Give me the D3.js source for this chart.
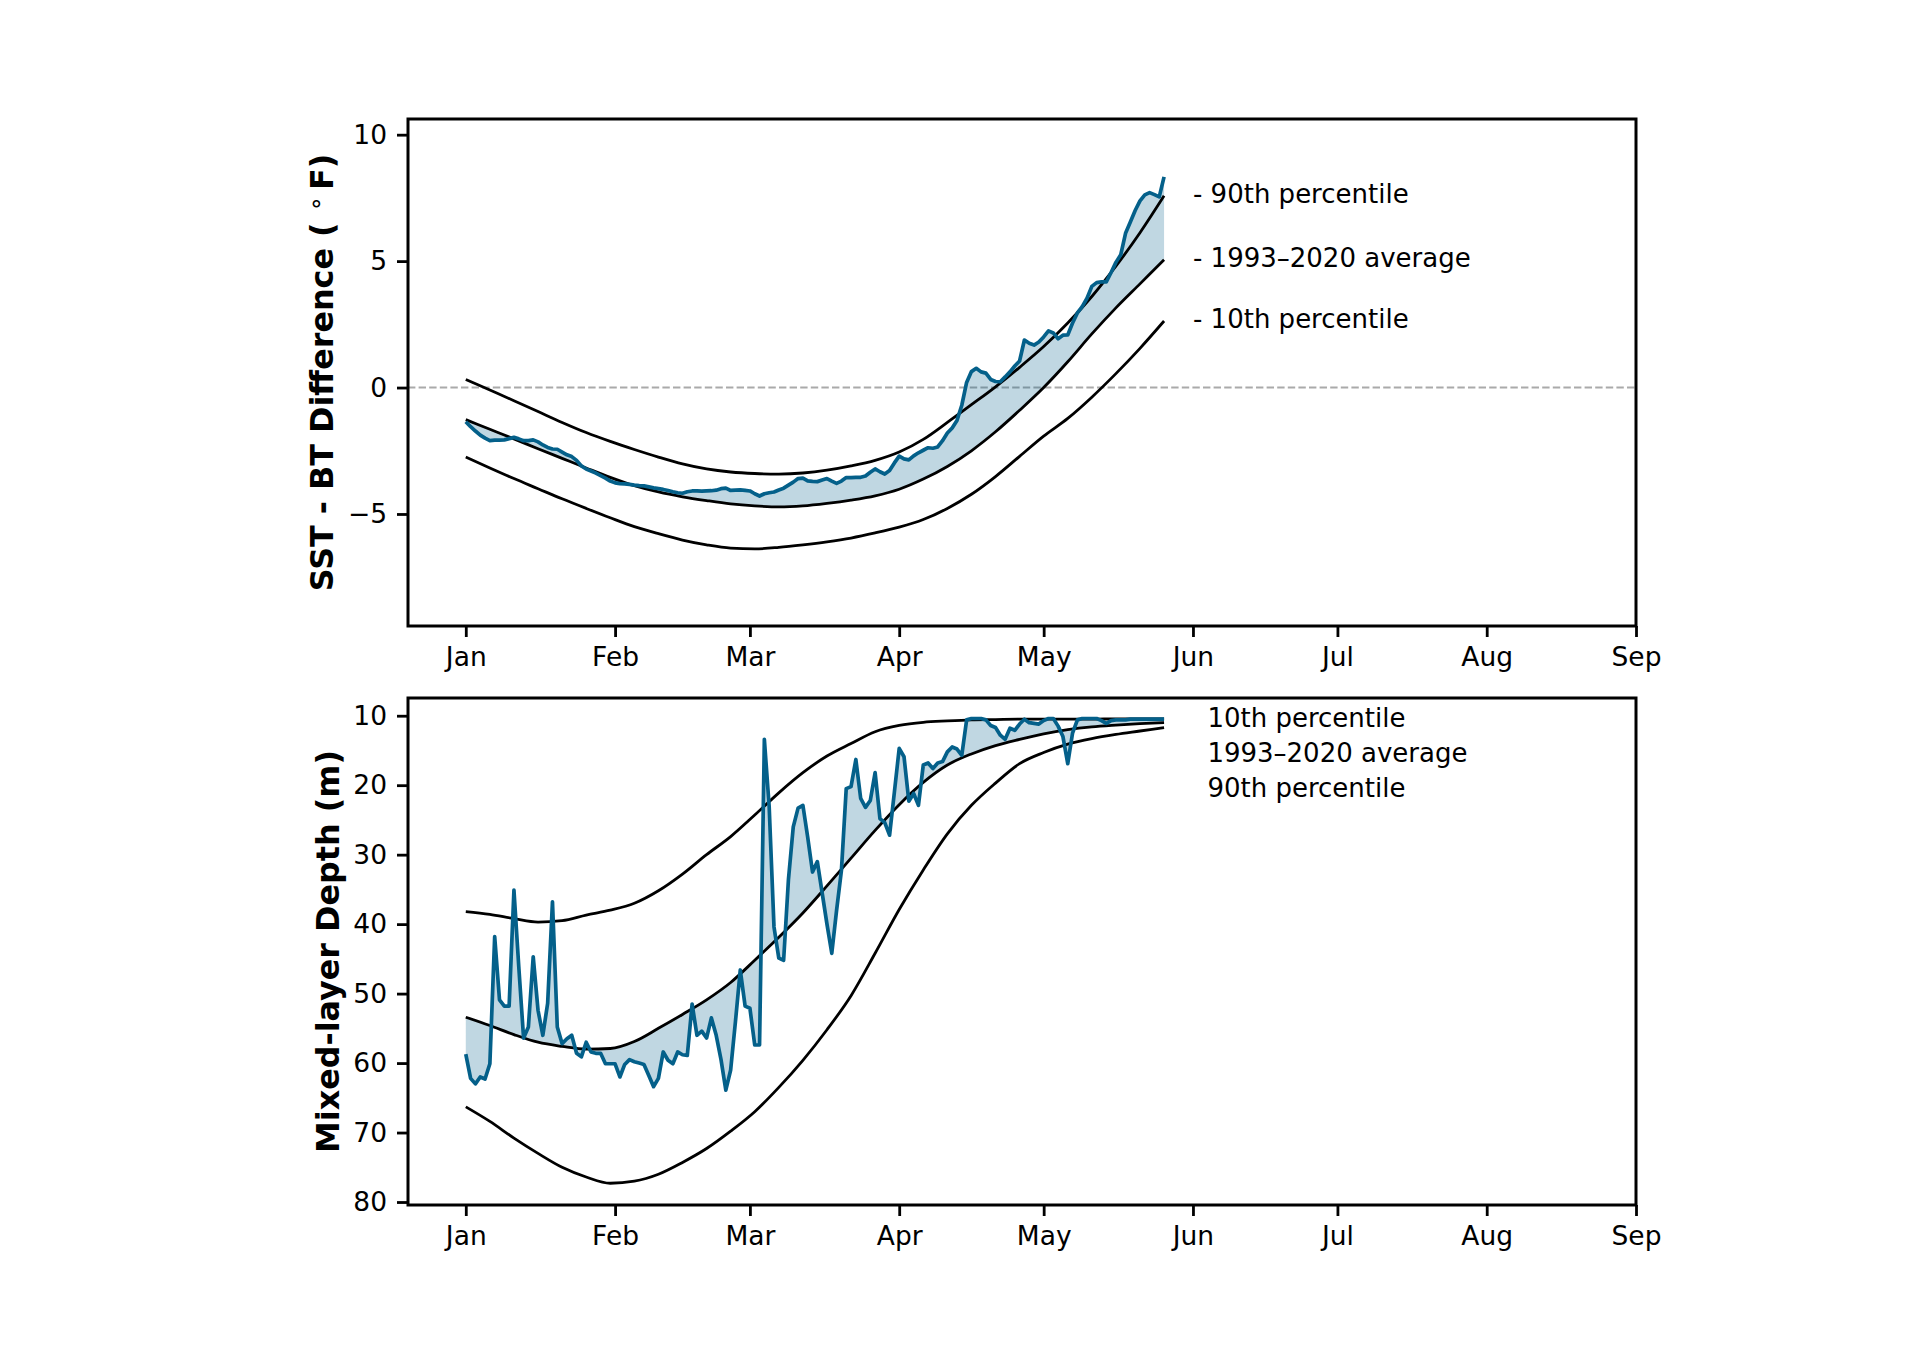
<!DOCTYPE html>
<html>
<head>
<meta charset="utf-8">
<script src="https://cdn.jsdelivr.net/npm/d3@7"></script>
<style>
  body { margin: 0; background: #fff; }
  text { font-family: "DejaVu Sans", sans-serif; }
</style>
</head>
<body>
<svg id="chart" width="1920" height="1359"></svg>
<script>

// ---- data ----
// month tick labels
var monthLabels = ["Jan", "Feb", "Mar", "Apr", "May", "Jun", "Jul", "Aug", "Sep"];

// observed daily SST - BT difference (F), Jan 1 .. May 26
var obsSst = [
  -1.35, -1.55, -1.72, -1.88, -2.0, -2.1, -2.08, -2.08, -2.07, -2.02,
  -1.97, -2.03, -2.1, -2.1, -2.07, -2.15, -2.27, -2.37, -2.43, -2.44,
  -2.55, -2.66, -2.73, -2.88, -3.1, -3.22, -3.3, -3.38, -3.48, -3.58,
  -3.7, -3.77, -3.8, -3.81, -3.83, -3.86, -3.88, -3.89, -3.93, -3.97,
  -4.0, -4.03, -4.07, -4.12, -4.16, -4.18, -4.12, -4.09, -4.09, -4.1,
  -4.09, -4.08, -4.06, -4.0, -3.98, -4.07, -4.06, -4.05, -4.07, -4.09,
  -4.2, -4.29, -4.2, -4.16, -4.13, -4.05, -3.98, -3.86, -3.74, -3.6,
  -3.58, -3.69, -3.71, -3.72, -3.66, -3.6, -3.7, -3.79, -3.7, -3.56,
  -3.56, -3.55, -3.55, -3.5, -3.35, -3.22, -3.33, -3.42, -3.28, -2.98,
  -2.71, -2.82, -2.86, -2.7, -2.58, -2.48, -2.38, -2.4, -2.35, -2.1,
  -1.8, -1.6, -1.3, -0.7, 0.2, 0.63, 0.76, 0.62, 0.57, 0.32,
  0.24, 0.23, 0.42, 0.62, 0.85, 1.05, 1.88, 1.75, 1.68, 1.8,
  2.0, 2.24, 2.16, 1.93, 2.07, 2.08, 2.55, 2.95, 3.2, 3.53,
  4.0, 4.15, 4.18, 4.18, 4.55, 4.95, 5.25, 6.1, 6.55, 7.0,
  7.38, 7.62, 7.71, 7.63, 7.54, 8.33
];

// observed daily mixed-layer depth (m), Jan 1 .. May 26
var obsMld = [
  58.7, 62.2, 63.0, 62.0, 62.3, 60.1, 41.8, 50.9, 51.8, 51.8,
  35.1, 46.1, 56.4, 54.8, 44.7, 52.4, 56.0, 51.4, 36.8, 54.8,
  57.2, 56.5, 56.0, 58.6, 59.1, 57.0, 58.4, 58.6, 58.6, 60.1,
  60.1, 60.1, 62.0, 60.2, 59.5, 59.8, 60.0, 60.2, 61.8, 63.4,
  62.2, 58.4, 59.6, 60.1, 58.4, 58.8, 58.9, 51.5, 56.0, 55.4,
  56.4, 53.5, 56.0, 59.5, 63.9, 61.0, 54.0, 46.6, 51.8, 52.1,
  57.4, 57.4, 13.4, 23.1, 40.4, 44.9, 45.2, 33.6, 26.0, 23.3,
  22.9, 27.5, 32.5, 31.0, 35.5, 40.0, 44.2, 38.0, 32.3, 20.5,
  20.2, 16.3, 21.9, 23.2, 22.2, 18.2, 24.8, 25.4, 27.2, 21.0,
  14.7, 15.9, 22.3, 21.2, 22.9, 17.1, 16.8, 17.6, 16.8, 16.6,
  15.2, 14.5, 14.8, 15.7, 10.6, 10.4, 10.4, 10.4, 10.6, 11.4,
  11.7, 12.8, 13.4, 11.8, 12.1, 11.2, 10.5, 11.0, 11.1, 11.2,
  10.7, 10.4, 10.4, 11.5, 13.0, 16.9, 12.5, 10.6, 10.4, 10.4,
  10.4, 10.4, 10.7, 11.1, 10.7, 10.6, 10.6, 10.6, 10.5, 10.5,
  10.5, 10.5, 10.5, 10.5, 10.5, 10.5
];

// climatology sampled every 5 days (day offset from Jan 1)
var pctDay = [0, 5, 10, 15, 20, 25, 30, 35, 40, 45, 50, 55, 60, 65, 70,
              75, 80, 85, 90, 95, 100, 105, 110, 115, 120, 125, 130, 135, 140, 145];

var sst90 = [0.32, -0.10, -0.52, -0.95, -1.38, -1.78, -2.13, -2.45, -2.75, -3.02,
             -3.22, -3.34, -3.40, -3.42, -3.38, -3.27, -3.10, -2.88, -2.55, -2.05,
             -1.38, -0.68, 0.03, 0.80, 1.62, 2.55, 3.60, 4.80, 6.12, 7.58];
var sstAvg = [-1.27, -1.65, -2.03, -2.42, -2.80, -3.18, -3.55, -3.88, -4.13, -4.32,
              -4.47, -4.60, -4.68, -4.72, -4.68, -4.58, -4.45, -4.28, -4.02, -3.62,
              -3.12, -2.50, -1.75, -0.90, 0.00, 1.02, 2.12, 3.15, 4.10, 5.05];
var sst10 = [-2.75, -3.18, -3.60, -4.00, -4.40, -4.78, -5.15, -5.50, -5.78, -6.03,
             -6.22, -6.35, -6.38, -6.32, -6.22, -6.10, -5.95, -5.75, -5.52, -5.22,
             -4.78, -4.22, -3.52, -2.72, -1.92, -1.22, -0.38, 0.55, 1.55, 2.63];

var mld10 = [38.2, 38.6, 39.2, 39.7, 39.5, 38.7, 38.0, 37.0, 35.2, 32.8,
             30.0, 27.4, 24.3, 21.1, 18.2, 15.8, 14.0, 12.3, 11.4, 10.95,
             10.75, 10.6, 10.55, 10.5, 10.5, 10.5, 10.5, 10.45, 10.45, 10.45];
var mldAvg = [53.4, 54.6, 55.9, 57.0, 57.6, 58.0, 57.9, 56.9, 55.0, 53.0,
              50.9, 48.4, 45.2, 41.9, 38.4, 34.5, 30.5, 26.5, 22.8, 19.6,
              17.1, 15.5, 14.3, 13.4, 12.6, 12.0, 11.6, 11.35, 11.15, 11.0];
var mld90 = [66.3, 68.4, 70.8, 73.0, 75.0, 76.4, 77.3, 77.0, 76.0, 74.3,
             72.3, 69.8, 67.0, 63.5, 59.6, 55.2, 50.3, 44.2, 37.9, 32.2,
             27.0, 22.9, 19.7, 16.9, 15.3, 14.1, 13.3, 12.7, 12.2, 11.7];

// annotation texts
var sstLabels = ["- 90th percentile", "- 1993\u20132020 average", "- 10th percentile"];
var mldLabels = ["10th percentile", "1993\u20132020 average", "90th percentile"];
var mldLabelDepths = [10, 15, 20];

// ---- layout ----
var obsColor = "#04608a";
var left = 408, right = 1636;
var start = new Date(Date.UTC(2021, 0, 1));
var obsDates = d3.utcDay.range(start, new Date(Date.UTC(2021, 4, 27)));
var pctDates = pctDay.map(function(d) { return d3.utcDay.offset(start, d); });

var x = d3.scaleUtc()
    .domain([new Date(Date.UTC(2020, 11, 20)), new Date(Date.UTC(2021, 8, 1))])
    .range([left, right]);

var months = d3.utcMonth.range(start, new Date(Date.UTC(2021, 8, 2)));

var svg = d3.select("#chart");
svg.append("rect").attr("width", 1920).attr("height", 1359).attr("fill", "#fff");

function drawPanel(p) {
  var y = d3.scaleLinear().domain(p.yDomain).range([p.bottom, p.top]);
  var g = svg.append("g");

  var lin = d3.line().x(function(d) { return x(d[0]); }).y(function(d) { return y(d[1]); });
  var smooth = d3.line().curve(d3.curveMonotoneX)
      .x(function(d) { return x(d[0]); }).y(function(d) { return y(d[1]); });

  var obsPts = d3.zip(obsDates, p.obs);
  var avgPts = d3.zip(pctDates, p.avg);

  // zero reference line
  if (p.zero) {
    g.append("line")
      .attr("x1", left).attr("x2", right)
      .attr("y1", y(0)).attr("y2", y(0))
      .attr("stroke", "#aaaaaa").attr("stroke-width", 2)
      .attr("stroke-dasharray", "7.4,3.2");
  }

  // shaded band between observed and average
  g.append("path")
    .attr("d", lin(obsPts) + "L" + smooth(avgPts.slice().reverse()).slice(1) + "Z")
    .attr("fill", obsColor).attr("fill-opacity", 0.25).attr("stroke", "none");

  // climatology lines
  [p.hi, p.avg, p.lo].forEach(function(s) {
    g.append("path")
      .attr("d", smooth(d3.zip(pctDates, s)))
      .attr("fill", "none").attr("stroke", "#000").attr("stroke-width", 2.8);
  });

  // observed
  g.append("path")
    .attr("d", lin(obsPts))
    .attr("fill", "none").attr("stroke", obsColor).attr("stroke-width", 3.7)
    .attr("stroke-linejoin", "round");

  // axes
  var xAxis = g.append("g")
      .attr("transform", "translate(0," + p.bottom + ")")
      .call(d3.axisBottom(x).tickValues(months)
        .tickFormat(function(d, i) { return monthLabels[i]; })
        .tickSize(11).tickPadding(10));
  var yAxis = g.append("g")
      .attr("transform", "translate(" + left + ",0)")
      .call(d3.axisLeft(y).tickValues(p.ticks).tickSize(11).tickPadding(10));

  [xAxis, yAxis].forEach(function(a) {
    a.attr("font-size", 26.5).attr("font-family", "DejaVu Sans");
    a.select(".domain").remove();
    a.selectAll(".tick line").attr("stroke", "#000").attr("stroke-width", 2.8);
    a.selectAll(".tick text").attr("fill", "#000");
  });

  // frame
  g.append("rect")
    .attr("x", left).attr("y", p.top)
    .attr("width", right - left).attr("height", p.bottom - p.top)
    .attr("fill", "none").attr("stroke", "#000").attr("stroke-width", 3);

  // y label
  var lab = g.append("text")
    .attr("transform", "translate(" + p.labelX + "," + (p.top + p.bottom) / 2 + ") rotate(-90)")
    .attr("text-anchor", "middle")
    .attr("font-size", 31.8).attr("font-weight", "bold").attr("fill", "#000");
  p.label(lab);

  // annotations
  g.selectAll(".note")
    .data(p.notes)
  .enter().append("text")
    .attr("x", x(p.noteDate))
    .attr("y", function(d) { return y(d.v) + p.noteShift; })
    .attr("dominant-baseline", "central")
    .attr("font-size", 26).attr("fill", "#000")
    .text(function(d) { return d.t; });
}

drawPanel({
  top: 119, bottom: 626, yDomain: [-9.43, 10.62], ticks: [-5, 0, 5, 10], zero: true,
  obs: obsSst, avg: sstAvg, hi: sst90, lo: sst10,
  labelX: 333,
  label: function(t) {
    t.append("tspan").text("SST - BT Difference ( ");
    t.append("tspan").text("\u2218").attr("font-weight", "normal")
      .attr("font-size", 24).attr("dy", -9);
    t.append("tspan").text("\u2009F)").attr("dy", 9);
  },
  noteDate: new Date(Date.UTC(2021, 5, 1)),
  noteShift: -2,
  notes: [
    {t: sstLabels[0], v: sst90[sst90.length - 1]},
    {t: sstLabels[1], v: sstAvg[sstAvg.length - 1]},
    {t: sstLabels[2], v: sst10[sst10.length - 1]}
  ]
});

drawPanel({
  top: 698, bottom: 1205, yDomain: [80.43, 7.45], ticks: [10, 20, 30, 40, 50, 60, 70, 80], zero: false,
  obs: obsMld, avg: mldAvg, hi: mld10, lo: mld90,
  labelX: 339,
  label: function(t) { t.text("Mixed-layer Depth (m)"); },
  noteDate: new Date(Date.UTC(2021, 5, 4)),
  noteShift: 2.5,
  notes: mldLabels.map(function(t, i) { return {t: t, v: mldLabelDepths[i]}; })
});

</script>
</body>
</html>
